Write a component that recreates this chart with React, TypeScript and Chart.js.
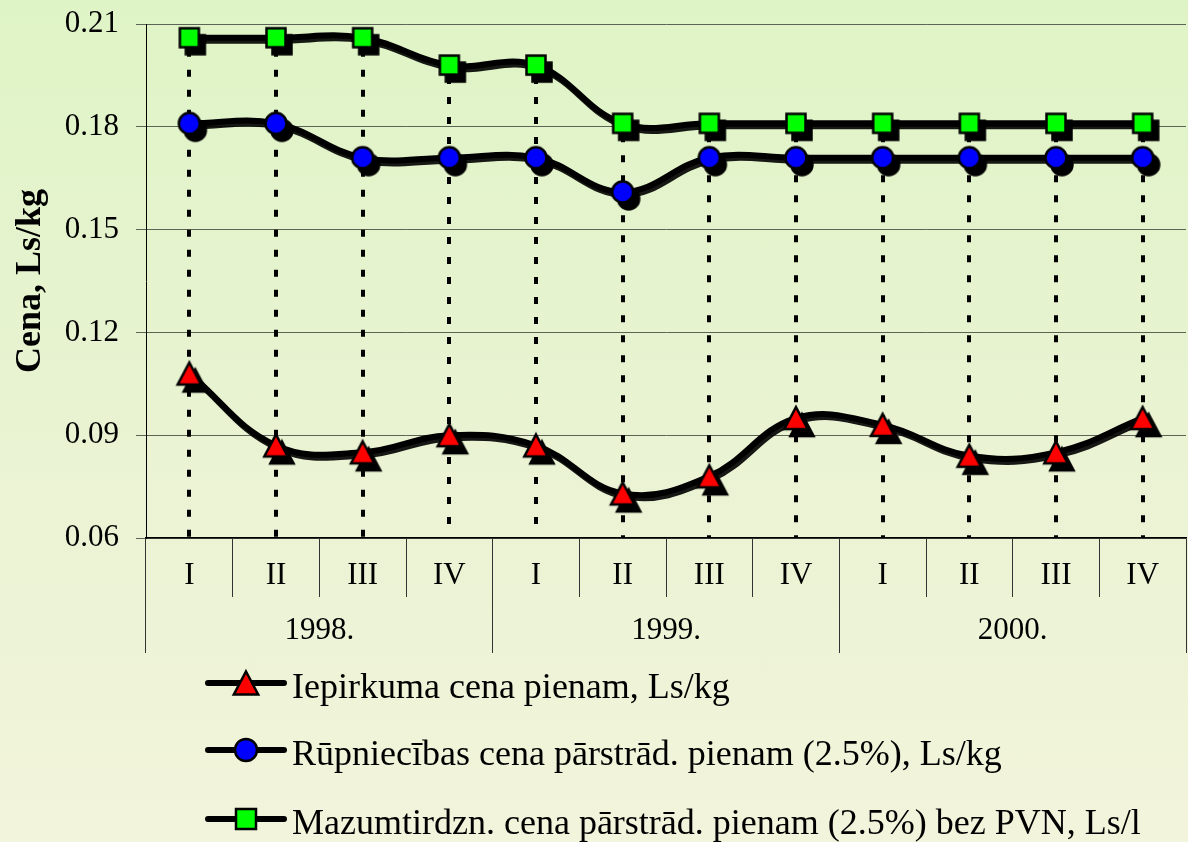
import React, { useEffect, useRef } from 'react';
import { Chart, registerables } from 'chart.js';

Chart.register(...registerables);

const quarters = ['I', 'II', 'III', 'IV', 'I', 'II', 'III', 'IV', 'I', 'II', 'III', 'IV'];
const years = ['1998.', '1999.', '2000.'];
const yTickValues = [0.06, 0.09, 0.12, 0.15, 0.18, 0.21];

const purchasePrice = [0.108, 0.087, 0.085, 0.090, 0.087, 0.073, 0.078, 0.095, 0.093, 0.084, 0.085, 0.095];
const industryPrice = [0.181, 0.181, 0.171, 0.171, 0.171, 0.161, 0.171, 0.171, 0.171, 0.171, 0.171, 0.171];
const retailPrice = [0.206, 0.206, 0.206, 0.198, 0.198, 0.181, 0.181, 0.181, 0.181, 0.181, 0.181, 0.181];

const seriesNames = [
  'Iepirkuma cena pienam, Ls/kg',
  'Rūpniecības cena pārstrād. pienam (2.5%), Ls/kg',
  'Mazumtirdzn. cena pārstrād. pienam (2.5%) bez PVN, Ls/l',
];
const yTitle = 'Cena, Ls/kg';

const SERIF = '"Liberation Serif", "Times New Roman", serif';

type Style = 'triangle' | 'circle' | 'square';
const markerStyles: Style[] = ['triangle', 'circle', 'square'];
const markerFills = ['#ff0000', '#0000ff', '#00ff00'];
const markerSizes = [22, 21, 19];

function pathMarker(ctx: CanvasRenderingContext2D, style: Style, cx: number, cy: number, s: number) {
  ctx.beginPath();
  if (style === 'triangle') {
    ctx.moveTo(cx, cy - s / 2);
    ctx.lineTo(cx + s * 0.53, cy + s / 2);
    ctx.lineTo(cx - s * 0.53, cy + s / 2);
    ctx.closePath();
  } else if (style === 'circle') {
    ctx.arc(cx, cy, s / 2, 0, Math.PI * 2);
  } else {
    ctx.rect(cx - s / 2, cy - s / 2, s, s);
  }
}

function drawMarker(ctx: CanvasRenderingContext2D, style: Style, cx: number, cy: number, s: number, fill: string, shadow: boolean) {
  ctx.save();
  ctx.lineJoin = 'miter';
  ctx.lineWidth = 2.5;
  ctx.strokeStyle = '#000';
  if (shadow) {
    pathMarker(ctx, style, cx + 6, cy + 7, s);
    ctx.fillStyle = '#000';
    ctx.fill();
    ctx.stroke();
  }
  pathMarker(ctx, style, cx, cy, s);
  ctx.fillStyle = fill;
  ctx.fill();
  ctx.stroke();
  ctx.restore();
}

function makeMarkerCanvas(i: number): HTMLCanvasElement {
  const c = document.createElement('canvas');
  c.width = 50;
  c.height = 50;
  const ctx = c.getContext('2d')!;
  drawMarker(ctx, markerStyles[i], 25, 25, markerSizes[i], markerFills[i], true);
  return c;
}

const dropLinesPlugin = {
  id: 'dropLines',
  beforeDatasetsDraw(chart: any) {
    const ctx = chart.ctx;
    const bottom = chart.chartArea.bottom;
    const n = chart.data.labels.length;
    ctx.save();
    ctx.strokeStyle = '#000';
    ctx.lineWidth = 4;
    ctx.setLineDash([7, 13]);
    for (let i = 0; i < n; i++) {
      let top = Infinity;
      let x = 0;
      chart.data.datasets.forEach((_: any, d: number) => {
        const el = chart.getDatasetMeta(d).data[i];
        if (el && el.y < top) {
          top = el.y;
          x = el.x;
        }
      });
      ctx.beginPath();
      ctx.moveTo(Math.round(x), top + 12);
      ctx.lineTo(Math.round(x), bottom);
      ctx.stroke();
    }
    ctx.restore();
  },
};

const lineShadowPlugin = {
  id: 'lineShadow',
  beforeDatasetDraw(chart: any, args: any) {
    const meta = args.meta;
    const ctx = chart.ctx;
    const line = meta.dataset;
    if (!line) return;
    ctx.save();
    ctx.translate(2, 3);
    ctx.globalAlpha = 0.9;
    line.draw(ctx, chart.chartArea);
    ctx.restore();
  },
};

const legendPlugin = {
  id: 'customLegend',
  afterDraw(chart: any) {
    const ctx = chart.ctx;
    const rows = [683, 750, 819];
    ctx.save();
    chart.data.datasets.forEach((ds: any, i: number) => {
      const y = rows[i];
      ctx.beginPath();
      ctx.lineCap = 'round';
      ctx.lineWidth = 6;
      ctx.strokeStyle = '#000';
      ctx.moveTo(208, y);
      ctx.lineTo(284, y);
      ctx.stroke();
      drawMarker(ctx, markerStyles[i], 246, y, markerSizes[i] + 1, markerFills[i], false);
      ctx.fillStyle = '#000';
      ctx.font = `36px ${SERIF}`;
      ctx.textAlign = 'left';
      ctx.textBaseline = 'alphabetic';
      ctx.fillText(ds.label, 292, y + 15);
    });
    ctx.restore();
  },
};

export default function App() {
  const ref = useRef<HTMLCanvasElement | null>(null);

  useEffect(() => {
    const canvas = ref.current;
    if (!canvas) return;
    const series = [purchasePrice, industryPrice, retailPrice];
    const chart = new Chart(canvas, {
      type: 'line',
      data: {
        labels: quarters,
        datasets: series.map((data, i) => ({
          label: seriesNames[i],
          data,
          borderColor: '#000',
          borderWidth: 6,
          tension: 0.4,
          pointStyle: makeMarkerCanvas(i) as any,
          pointRadius: 12,
          fill: false,
          clip: false as any,
        })),
      },
      options: {
        animation: false,
        responsive: false,
        devicePixelRatio: 1,
        events: [],
        layout: { padding: { top: 24, bottom: 189, left: 0, right: 0 } },
        plugins: {
          legend: { display: false },
          tooltip: { enabled: false },
        },
        scales: {
          x: {
            type: 'category',
            position: 'bottom',
            weight: 0,
            offset: true,
            grid: {
              offset: true,
              drawOnChartArea: false,
              drawTicks: true,
              tickLength: 59,
              color: '#333',
              lineWidth: 1,
            },
            border: { display: true, color: '#000', width: 1.5 },
            ticks: {
              color: '#000',
              font: { family: SERIF, size: 31 },
              padding: -40,
              maxRotation: 0,
              autoSkip: false,
            },
            afterFit: (scale: any) => {
              scale.height = 59;
            },
          },
          x2: {
            type: 'category',
            position: 'bottom',
            weight: 1,
            labels: years,
            offset: true,
            grid: {
              offset: true,
              drawOnChartArea: false,
              drawTicks: true,
              tickLength: 56,
              color: '#333',
              lineWidth: 1,
            },
            border: { display: false },
            ticks: {
              color: '#000',
              font: { family: SERIF, size: 31 },
              padding: -41,
              maxRotation: 0,
              autoSkip: false,
            },
            afterFit: (scale: any) => {
              scale.height = 56;
            },
          },
          y: {
            type: 'linear',
            position: 'left',
            min: 0.06,
            max: 0.21,
            afterBuildTicks: (scale: any) => {
              scale.ticks = yTickValues.map((v) => ({ value: v }));
            },
            afterFit: (scale: any) => {
              scale.width = 146;
              scale.paddingTop = 0;
              scale.paddingBottom = 0;
            },
            grid: {
              color: '#5c6456',
              lineWidth: 1,
              tickLength: 10,
            },
            border: { display: true, color: '#000', width: 1 },
            ticks: {
              color: '#000',
              font: { family: SERIF, size: 31 },
              padding: 17,
              callback: (v: any) => Number(v).toFixed(2),
            },
            title: {
              display: true,
              text: yTitle,
              color: '#000',
              font: { family: SERIF, size: 36, weight: 'bold' },
              padding: { top: 9, bottom: 0 },
            },
          },
        },
      },
      plugins: [dropLinesPlugin, lineShadowPlugin, legendPlugin],
    });
    return () => chart.destroy();
  }, []);

  return (
    <div
      style={{
        position: 'fixed',
        left: 0,
        top: 0,
        width: 1188,
        height: 842,
        overflow: 'hidden',
        background: 'linear-gradient(to bottom, #dff4c6 0%, #e9f3d2 50%, #f2f4db 100%)',
      }}
    >
      <canvas ref={ref} width={1204} height={842} style={{ display: 'block' }} />
    </div>
  );
}
